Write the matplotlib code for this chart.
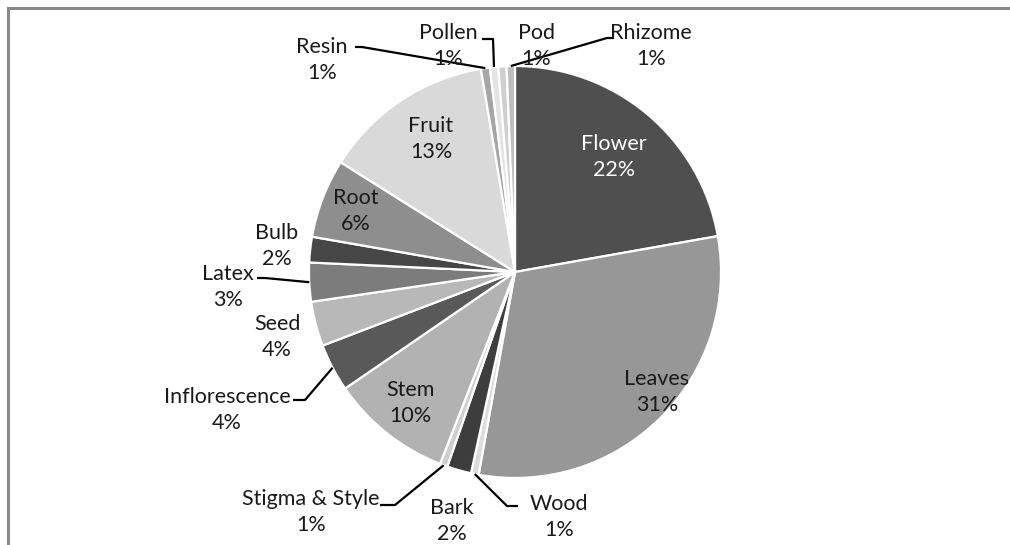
import numpy as np
import matplotlib.pyplot as plt
from matplotlib.patches import Rectangle

# plant part share (%), clockwise from 12 o'clock
parts = ["Flower", "Leaves", "Wood", "Bark", "Stigma & Style", "Stem",
         "Inflorescence", "Seed", "Latex", "Bulb", "Root", "Fruit",
         "Resin", "Pollen", "Pod", "Rhizome"]
shares = [22.2, 30.6, 0.6, 1.9, 0.6, 9.5, 3.75, 3.5, 3.05, 2.0, 6.2, 13.4,
          0.7, 0.65, 0.65, 0.65]
shown_pct = ["22%", "31%", "1%", "2%", "1%", "10%", "4%", "4%", "3%", "2%",
             "6%", "13%", "1%", "1%", "1%", "1%"]

colors = ["#4f4f4f", "#979797", "#dcdcdc", "#3d3d3d", "#cfcfcf", "#b2b2b2",
          "#595959", "#b8b8b8", "#7c7c7c", "#464646", "#8e8e8e", "#d9d9d9",
          "#a6a6a6", "#e3e3e3", "#cfcfcf", "#bdbdbd"]

W, H = 1010, 545
fig = plt.figure(figsize=(W / 100, H / 100), dpi=100)
ax = fig.add_axes([0, 0, 1, 1])

cx, cy, R = 515, H - 272, 206

wedges, _ = ax.pie(shares, colors=colors, startangle=90, counterclock=False,
                   center=(cx, cy), radius=R,
                   wedgeprops=dict(edgecolor="white", linewidth=1.6))
ax.set_xlim(0, W)
ax.set_ylim(0, H)
ax.set_aspect("equal")
ax.axis("off")

# label positions in image pixels (x, y from top), plus optional leader elbow
label_pos = {
    "Flower": (614, 157), "Leaves": (657, 392), "Wood": (559, 517),
    "Bark": (452, 521), "Stigma & Style": (311, 512), "Stem": (410, 403),
    "Inflorescence": (227, 410), "Seed": (277, 337), "Latex": (228, 287),
    "Bulb": (277, 246), "Root": (356, 211), "Fruit": (431, 139),
    "Resin": (322, 60), "Pollen": (448, 46), "Pod": (536, 46),
    "Rhizome": (651, 46),
}
leaders = {
    "Wood": [(507, 506), (518, 506)],
    "Stigma & Style": [(395, 505), (380, 505)],
    "Inflorescence": [(305, 400), (293, 400)],
    "Latex": [(265, 278), (257, 278)],
    "Resin": [(362, 47), (355, 47)],
    "Pollen": [(493, 39), (482, 39)],
    "Rhizome": [(607, 38), (614, 38)],
}

font = ["Lato", "DejaVu Sans"]
for w, name, pct in zip(wedges, parts, shown_pct):
    px, py = label_pos[name]
    tc = "white" if name == "Flower" else "#1a1a1a"
    ax.text(px, H - py, f"{name}\n{pct}", ha="center", va="center",
            fontsize=15.5, family=font, color=tc, linespacing=1.4, zorder=5)
    if name in leaders:
        mid = np.deg2rad((w.theta1 + w.theta2) / 2)
        sx, sy = cx + R * np.cos(mid), cy + R * np.sin(mid)
        xs = [sx] + [p[0] for p in leaders[name]]
        ys = [sy] + [H - p[1] for p in leaders[name]]
        ax.plot(xs, ys, color="black", lw=1.6, zorder=4, solid_capstyle="butt")

# chart frame
ax.add_patch(Rectangle((8, -5), W + 10, H - 8 + 5, fill=False,
                       edgecolor="#8a8a8a", lw=2.2, zorder=6))

fig.savefig("out.png", dpi=100)
